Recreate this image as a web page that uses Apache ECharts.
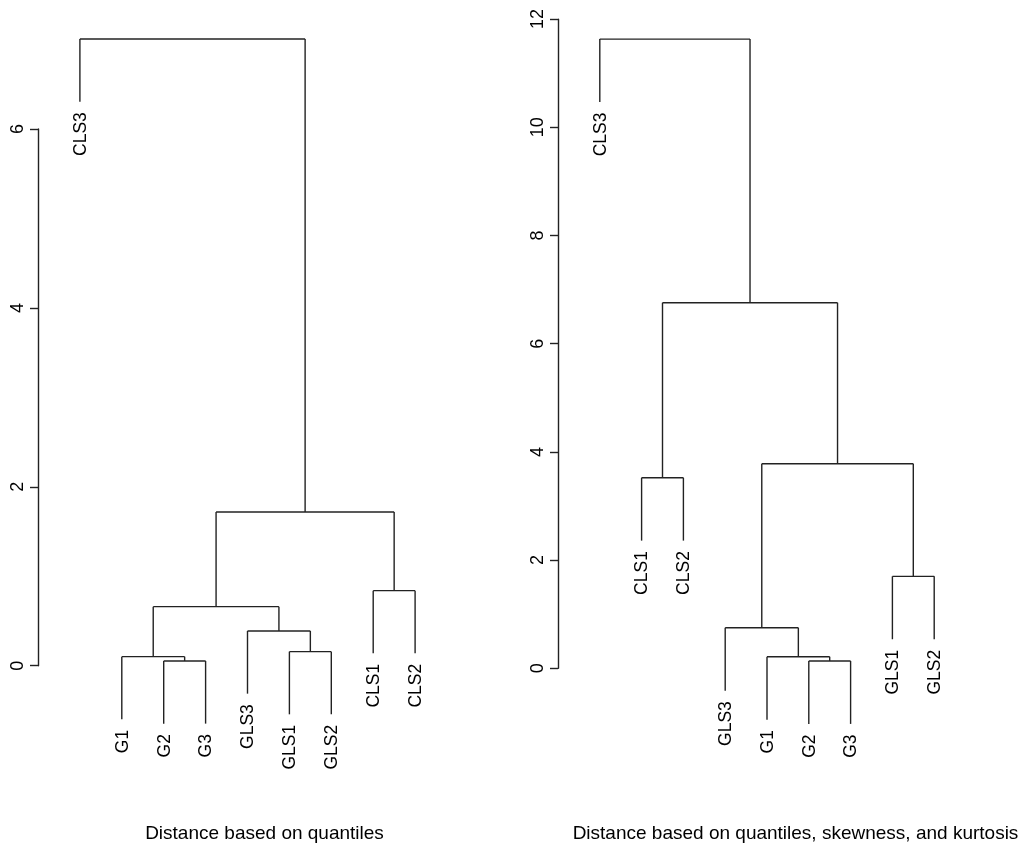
<!DOCTYPE html>
<html><head><meta charset="utf-8">
<script src="https://cdn.jsdelivr.net/npm/echarts@6/dist/echarts.min.js"></script>
<style>html,body{margin:0;padding:0;background:#fff}#c{width:1024px;height:852px}</style>
</head><body><div id="c"></div>
<script>
// ---- data (hclust-style: negative = leaf index into labels, positive = earlier merge step) ----
const leftLabels = ['CLS3','G1','G2','G3','GLS3','GLS1','GLS2','CLS1','CLS2'];
const leftMerge = [[-3,-4],[-2,1],[-6,-7],[-5,3],[2,4],[-8,-9],[5,6],[-1,7]];
const leftHeights = [0.053,0.101,0.157,0.388,0.660,0.839,1.718,7.006];
const leftTitle = 'Distance based on quantiles';

const rightLabels = ['CLS3','CLS1','CLS2','GLS3','G1','G2','G3','GLS1','GLS2'];
const rightMerge = [[-6,-7],[-5,1],[-4,2],[-8,-9],[-2,-3],[3,4],[5,6],[-1,7]];
const rightHeights = [0.135,0.214,0.750,1.70,3.523,3.782,6.758,11.63];
const rightTitle = 'Distance based on quantiles, skewness, and kurtosis';

const hangFraction = 0.1;

function buildDendro(labels, merge, heights) {
  const hang = hangFraction * Math.max.apply(null, heights);
  const nodeX = [], nodeH = [], segs = [], leaves = [];
  function child(c, h) {
    if (c < 0) { const i = -c; const y = h - hang; leaves.push([i, y, labels[i-1]]); return [i, y]; }
    return [nodeX[c-1], nodeH[c-1]];
  }
  merge.forEach(function (m, k) {
    const h = heights[k];
    const a = child(m[0], h), b = child(m[1], h);
    segs.push([a[0], a[1], a[0], h]);
    segs.push([a[0], h, b[0], h]);
    segs.push([b[0], h, b[0], b[1]]);
    nodeX[k] = (a[0] + b[0]) / 2; nodeH[k] = h;
  });
  return {segs: segs, leaves: leaves};
}
const L = buildDendro(leftLabels, leftMerge, leftHeights);
const R = buildDendro(rightLabels, rightMerge, rightHeights);

const FONT = '"Liberation Sans", Arial, Helvetica, sans-serif';
const LINE = '#222';

function segSeries(idx, segs) {
  return {
    type: 'custom', xAxisIndex: idx, yAxisIndex: idx, clip: false, silent: true,
    data: segs,
    encode: {x: [0, 2], y: [1, 3]},
    renderItem: function (params, api) {
      const p1 = api.coord([api.value(0), api.value(1)]);
      const p2 = api.coord([api.value(2), api.value(3)]);
      return {type: 'line', shape: {x1: p1[0], y1: p1[1], x2: p2[0], y2: p2[1]},
        style: {stroke: LINE, lineWidth: 1.4}};
    }
  };
}
function leafSeries(idx, leaves) {
  return {
    type: 'custom', xAxisIndex: idx, yAxisIndex: idx, clip: false, silent: true,
    data: leaves,
    encode: {x: 0, y: 1},
    renderItem: function (params, api) {
      const p = api.coord([api.value(0), api.value(1)]);
      return {type: 'text', x: p[0] + 1, y: p[1] + 10.5, rotation: Math.PI / 2,
        style: {text: leaves[params.dataIndex][2], font: '17.5px ' + FONT, fill: '#000',
          align: 'right', verticalAlign: 'middle'}};
    }
  };
}

const hiddenX = {type: 'value', min: 0, max: 10, show: false};
function hiddenY(min, max) { return {type: 'value', min: min, max: max, show: false}; }
function shownY(max) {
  return {type: 'value', min: 0, max: max, interval: 2,
    axisLine: {show: true, lineStyle: {color: LINE, width: 1.4}},
    axisTick: {show: true, length: 8, lineStyle: {color: LINE, width: 1.4}},
    axisLabel: {rotate: 90, margin: 11, color: '#000', fontSize: 18, fontFamily: FONT},
    splitLine: {show: false}};
}

const option = {
  animation: false,
  backgroundColor: '#fff',
  grid: [
    {left: 38, width: 419, top: 21.66, height: 733.49},
    {left: 38, width: 419, top: 129, height: 536.7},
    {left: 558, width: 418, top: 19.1, height: 757.4},
    {left: 558, width: 418, top: 19.1, height: 649.2}
  ],
  xAxis: [
    Object.assign({gridIndex: 0}, hiddenX),
    Object.assign({gridIndex: 1}, hiddenX),
    Object.assign({gridIndex: 2}, hiddenX),
    Object.assign({gridIndex: 3}, hiddenX)
  ],
  yAxis: [
    Object.assign({gridIndex: 0}, hiddenY(-1, 7.2)),
    Object.assign({gridIndex: 1}, shownY(6)),
    Object.assign({gridIndex: 2}, hiddenY(-2, 12)),
    Object.assign({gridIndex: 3}, shownY(12))
  ],
  graphic: [
    {type: 'text', x: 264.5, y: 834, style: {text: leftTitle, font: '19px ' + FONT, fill: '#000', align: 'center', verticalAlign: 'middle'}},
    {type: 'text', x: 795.5, y: 834, style: {text: rightTitle, font: '19px ' + FONT, fill: '#000', align: 'center', verticalAlign: 'middle'}}
  ],
  series: [
    segSeries(0, L.segs), leafSeries(0, L.leaves),
    segSeries(2, R.segs), leafSeries(2, R.leaves),
    {type: 'line', xAxisIndex: 1, yAxisIndex: 1, data: [], silent: true},
    {type: 'line', xAxisIndex: 3, yAxisIndex: 3, data: [], silent: true}
  ]
};
const chart = echarts.init(document.getElementById('c'), null, {renderer: 'canvas'});
chart.setOption(option);
</script></body></html>
